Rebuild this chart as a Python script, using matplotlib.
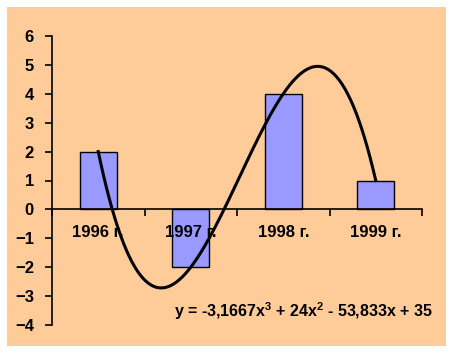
import numpy as np
import matplotlib.pyplot as plt
from matplotlib.patches import Rectangle

plt.rcParams['font.family'] = ['Liberation Sans', 'DejaVu Sans']
plt.rcParams['mathtext.fontset'] = 'custom'
plt.rcParams['mathtext.bf'] = 'Liberation Sans:bold'
plt.rcParams['mathtext.rm'] = 'Liberation Sans:bold'

years = ['1996 г.', '1997 г.', '1998 г.', '1999 г.']
values = [2, -2, 4, 1]

fig = plt.figure(figsize=(4.53, 3.53), dpi=100, facecolor='white')
# peach chart area
fig.patches.append(Rectangle((7 / 453, 7 / 353), 439 / 453, 339 / 353,
                             transform=fig.transFigure, facecolor='#FFCC99',
                             edgecolor='none', zorder=-10))
ax = fig.add_axes([52 / 453, 1 - 325 / 353, 370 / 453, 289 / 353])
ax.set_facecolor('none')
ax.set_axisbelow(False)

ind = np.arange(len(years))
ax.bar(ind, values, 0.4, color='#9999FF', edgecolor='black', linewidth=1, zorder=1)

# cubic trendline through the points (x = 1..4, as in Excel)
xs = ind + 1
coef = np.polyfit(xs, values, 3)
xx = np.linspace(1, 4, 200)
ax.plot(xx - 1, np.polyval(coef, xx), color='black', linewidth=2.2, zorder=3)

ax.set_xlim(-0.5, 3.5)
ax.set_ylim(-4, 6)
ax.set_yticks(range(-4, 7))
ax.set_xticks(ind)
ax.set_xticklabels(years)
ax.set_xticks(np.arange(-0.5, 4, 1), minor=True)

for s in ['top', 'right']:
    ax.spines[s].set_visible(False)
ax.spines['bottom'].set_position(('data', 0))
ax.spines['left'].set_linewidth(1.2)
ax.spines['bottom'].set_linewidth(1.2)

ax.tick_params(axis='y', direction='out', length=5, width=1.2, labelsize=12, pad=8)
ax.tick_params(axis='x', which='major', length=0, labelsize=12, pad=11)
ax.tick_params(axis='x', which='minor', direction='out', length=5, width=1.2)
for lab in ax.get_xticklabels() + ax.get_yticklabels():
    lab.set_fontweight('bold')

fig.text(433 / 453, 1 - 311 / 353,
         r'y = -3,1667x$^{\mathbf{3}}$ + 24x$^{\mathbf{2}}$ - 53,833x + 35',
         ha='right', va='center', fontsize=11.5, fontweight='bold')

fig.savefig('out.png', dpi=100, facecolor='white')
